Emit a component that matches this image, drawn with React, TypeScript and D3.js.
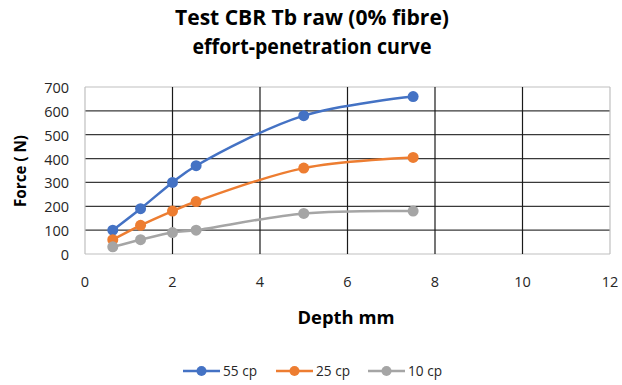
import React from "react";
import * as d3 from "d3";

const depth = [0.635, 1.27, 2, 2.54, 5, 7.5];
const cp55 = [100, 190, 300, 370, 580, 660];
const cp25 = [60, 120, 180, 220, 360, 405];
const cp10 = [30, 60, 90, 100, 170, 180];
const seriesNames = ["55 cp", "25 cp", "10 cp"];
const seriesColors = ["#4472C4", "#ED7D31", "#A5A5A5"];
const xTicks = [0, 2, 4, 6, 8, 10, 12];
const yTicks = [0, 100, 200, 300, 400, 500, 600, 700];

const W = 622, H = 385;
const L = 85, R = 610, T = 87, B = 254;
const FONT = "'Open Sans', 'Liberation Sans', sans-serif";

export default function App() {
  const x = d3.scaleLinear().domain([0, 12]).range([L, R]);
  const y = d3.scaleLinear().domain([0, 700]).range([B, T]);
  const series = [cp55, cp25, cp10];
  const line = d3
    .line<number>()
    .x((_, i) => x(depth[i]))
    .y((d) => y(d))
    .curve(d3.curveCatmullRom.alpha(0.5));
  const legendX = [183, 276, 368];
  return (
    <svg width={W} height={H} style={{ position: "absolute", left: 0, top: 0, background: "#fff" }}>
      <text x={312} y={25} textAnchor="middle" fontFamily={FONT} fontWeight="bold" fontSize={21} textLength={274} lengthAdjust="spacingAndGlyphs">
        Test CBR Tb raw (0% fibre)
      </text>
      <text x={312} y={54} textAnchor="middle" fontFamily={FONT} fontWeight="bold" fontSize={21} textLength={239} lengthAdjust="spacingAndGlyphs">
        effort-penetration curve
      </text>
      {yTicks.map((t) => (
        <line key={"h" + t} x1={L} x2={R} y1={y(t)} y2={y(t)} stroke={t === 0 || t === 700 ? "#bfbfbf" : "#3a3a3a"} strokeWidth={1.2} />
      ))}
      {xTicks.map((t) => (
        <line key={"v" + t} x1={x(t)} x2={x(t)} y1={T} y2={B} stroke={t === 0 || t === 12 ? "#bfbfbf" : "#1a1a1a"} strokeWidth={1.2} />
      ))}
      {yTicks.map((t) => (
        <text key={"yl" + t} x={69} y={y(t) + 6} textAnchor="end" fontFamily={FONT} fontSize={14.5} fill="#262626">
          {t}
        </text>
      ))}
      {xTicks.map((t) => (
        <text key={"xl" + t} x={x(t)} y={287} textAnchor="middle" fontFamily={FONT} fontSize={14.5} fill="#262626">
          {t}
        </text>
      ))}
      <text transform={`translate(26,171) rotate(-90)`} textAnchor="middle" fontFamily={FONT} fontWeight="bold" fontSize={16} textLength={72} lengthAdjust="spacingAndGlyphs">
        Force ( N)
      </text>
      <text x={346} y={324} textAnchor="middle" fontFamily={FONT} fontWeight="bold" fontSize={18} textLength={97} lengthAdjust="spacingAndGlyphs">
        Depth mm
      </text>
      {series.map((s, si) => (
        <g key={"s" + si}>
          <path d={line(s) || ""} fill="none" stroke={seriesColors[si]} strokeWidth={2.5} />
          {s.map((v, i) => (
            <circle key={i} cx={x(depth[i])} cy={y(v)} r={5.5} fill={seriesColors[si]} />
          ))}
        </g>
      ))}
      {seriesNames.map((n, i) => (
        <g key={"lg" + i}>
          <line x1={legendX[i]} x2={legendX[i] + 37} y1={371} y2={371} stroke={seriesColors[i]} strokeWidth={2.5} />
          <circle cx={legendX[i] + 18.5} cy={371} r={5} fill={seriesColors[i]} />
          <text x={legendX[i] + 40} y={376} fontFamily={FONT} fontSize={14} fill="#262626" textLength={34} lengthAdjust="spacingAndGlyphs">
            {n}
          </text>
        </g>
      ))}
    </svg>
  );
}
